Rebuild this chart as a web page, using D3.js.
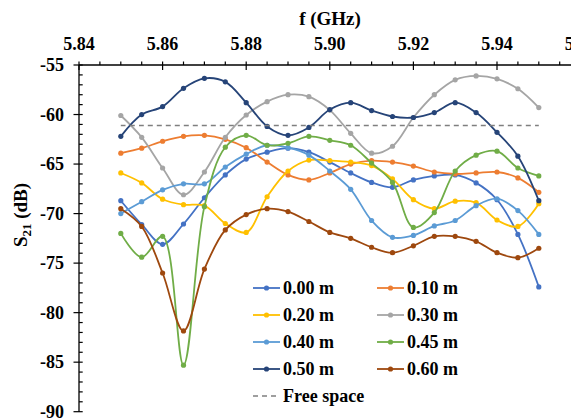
<!DOCTYPE html>
<html>
<head>
<meta charset="utf-8">
<script src="https://cdn.jsdelivr.net/npm/d3@7"></script>
<style>
  body { margin: 0; background: #fff; }
</style>
</head>
<body>
<svg id="chart" width="571" height="418" font-family="'Liberation Serif', 'DejaVu Serif', serif" font-weight="bold"></svg>
<script>
// frequencies in GHz
const freqs = [5.850, 5.855, 5.860, 5.865, 5.870, 5.875, 5.880, 5.885, 5.890, 5.895, 5.900,
               5.905, 5.910, 5.915, 5.920, 5.925, 5.930, 5.935, 5.940, 5.945, 5.950];

const s00 = [-68.7, -71.1, -73.1, -71.05, -68.4, -66.1, -64.5, -63.8, -63.4, -63.8, -64.8,
             -65.9, -66.85, -67.35, -66.6, -66.2, -66.1, -66.9, -68.6, -72.1, -77.4];
const s10 = [-63.9, -63.4, -62.7, -62.2, -62.1, -62.5, -63.35, -64.8, -66.1, -66.6, -65.9,
             -65.0, -64.65, -64.8, -65.2, -65.8, -66.0, -65.9, -65.8, -66.4, -67.85];
const s20 = [-65.9, -66.9, -68.55, -69.1, -69.2, -71.0, -71.9, -68.3, -65.7, -64.6, -64.65,
             -64.8, -65.15, -66.5, -68.6, -69.5, -68.75, -68.9, -70.65, -71.3, -69.0];
const s30 = [-60.1, -62.3, -65.4, -68.1, -65.8, -62.3, -60.05, -58.7, -58.0, -58.2, -59.55,
             -61.9, -63.9, -63.2, -60.3, -58.0, -56.5, -56.1, -56.4, -57.4, -59.3];
const s40 = [-70.0, -68.8, -67.6, -67.0, -67.0, -65.3, -64.0, -63.1, -63.35, -64.1, -65.7,
             -67.55, -70.7, -72.4, -72.2, -71.25, -70.7, -69.2, -68.5, -69.7, -72.1];
const s45 = [-72.0, -74.4, -72.3, -85.3, -69.3, -63.3, -62.1, -63.1, -62.9, -62.2, -62.6,
             -63.1, -64.9, -66.85, -71.4, -69.9, -65.7, -64.1, -63.7, -65.4, -66.2];
const s50 = [-62.2, -60.0, -59.2, -57.35, -56.35, -56.7, -58.8, -61.2, -62.1, -61.3, -59.5,
             -58.8, -59.6, -60.2, -60.3, -59.8, -58.8, -59.8, -61.8, -64.2, -68.7];
const s60 = [-69.5, -71.3, -76.0, -81.85, -75.6, -71.65, -70.1, -69.5, -69.8, -70.8, -71.9,
             -72.5, -73.4, -73.95, -73.25, -72.3, -72.3, -72.8, -73.95, -74.45, -73.5];
const freeSpace = [-61.1, -61.1, -61.1, -61.1, -61.1, -61.1, -61.1, -61.1, -61.1, -61.1, -61.1,
                   -61.1, -61.1, -61.1, -61.1, -61.1, -61.1, -61.1, -61.1, -61.1, -61.1];

const seriesNames = ["0.00 m", "0.10 m", "0.20 m", "0.30 m", "0.40 m", "0.45 m", "0.50 m", "0.60 m"];
const seriesValues = [s00, s10, s20, s30, s40, s45, s50, s60];
const seriesColors = ["#4472C4", "#ED7D31", "#FFC000", "#A5A5A5", "#5B9BD5", "#70AD47", "#264478", "#9E480E"];

const xTicks = [5.84, 5.86, 5.88, 5.90, 5.92, 5.94, 5.96];
const yTicks = [-55, -60, -65, -70, -75, -80, -85, -90];

const svg = d3.select("#chart");

let x = d3.scaleLinear().domain([5.84, 5.96]).range([79, 580.6]);
let y = d3.scaleLinear().domain([-90, -55]).range([411.7, 65]);

// top x axis: majors cross the line, minors point up
svg.append("line").attr("x1", x(5.84)).attr("x2", 571).attr("y1", y(-55)).attr("y2", y(-55))
   .attr("stroke", "#000").attr("stroke-width", 1.3);
d3.range(0, 25).forEach((i) => {
    let v = 5.84 + i * 0.005;
    let major = i % 4 === 0;
    svg.append("line")
       .attr("x1", x(v)).attr("x2", x(v))
       .attr("y1", y(-55) - 3.5).attr("y2", y(-55) + (major ? 5 : 0))
       .attr("stroke", "#000").attr("stroke-width", 1.2);
});
xTicks.forEach((v) => {
    svg.append("text")
       .attr("x", x(v)).attr("y", 50)
       .attr("text-anchor", "middle")
       .attr("font-size", 18)
       .text(v.toFixed(2));
});
svg.append("text").attr("x", 330).attr("y", 25).attr("text-anchor", "middle")
   .attr("font-size", 19).text("f (GHz)");

// left y axis: majors cross, minors point right
svg.append("line").attr("x1", 79).attr("x2", 79).attr("y1", y(-55)).attr("y2", y(-90))
   .attr("stroke", "#000").attr("stroke-width", 1.3);
d3.range(-90, -54, 1).forEach((v) => {
    let major = v % 5 === 0;
    svg.append("line")
       .attr("x1", 79 - (major ? 5.5 : 0)).attr("x2", 79 + 3.7)
       .attr("y1", y(v)).attr("y2", y(v))
       .attr("stroke", "#000").attr("stroke-width", 1.2);
});
yTicks.forEach((v) => {
    svg.append("text")
       .attr("x", 64).attr("y", y(v) + 6)
       .attr("text-anchor", "end")
       .attr("font-size", 18)
       .text(v);
});
let yTitle = svg.append("text")
   .attr("transform", "translate(27,215) rotate(-90)")
   .attr("text-anchor", "middle")
   .attr("font-size", 19);
yTitle.append("tspan").text("S");
yTitle.append("tspan").attr("font-size", 13).attr("dy", 4).text("21");
yTitle.append("tspan").attr("dy", -4).text(" (dB)");

// lines
let lineGen = d3.line()
    .x((d, i) => x(freqs[i]))
    .y((d) => y(d))
    .curve(d3.curveCatmullRom.alpha(0.5));

seriesValues.forEach((vals, idx) => {
    svg.append("path")
       .attr("d", lineGen(vals))
       .attr("fill", "none")
       .attr("stroke", seriesColors[idx])
       .attr("stroke-width", 1.8);
    svg.selectAll(null).data(vals).enter()
       .append("circle")
       .attr("cx", (d, i) => x(freqs[i]))
       .attr("cy", (d) => y(d))
       .attr("r", 2.6)
       .attr("fill", seriesColors[idx]);
});

svg.append("path")
   .attr("d", lineGen(freeSpace))
   .attr("fill", "none")
   .attr("stroke", "#7F7F7F")
   .attr("stroke-width", 1.5)
   .attr("stroke-dasharray", "5,4");

// legend, two columns
seriesNames.forEach((name, k) => {
    let col = k % 2;
    let row = Math.floor(k / 2);
    let lx = col === 0 ? 253 : 377;
    let ly = 288 + row * 27;
    svg.append("line").attr("x1", lx).attr("x2", lx + 27).attr("y1", ly).attr("y2", ly)
       .attr("stroke", seriesColors[k]).attr("stroke-width", 1.8);
    svg.append("circle").attr("cx", lx + 13.5).attr("cy", ly).attr("r", 2.6).attr("fill", seriesColors[k]);
    svg.append("text").attr("x", lx + 30).attr("y", ly + 6).attr("font-size", 18).text(name);
});
let fy = 288 + 4 * 27;
svg.append("line").attr("x1", 253).attr("x2", 280).attr("y1", fy).attr("y2", fy)
   .attr("stroke", "#7F7F7F").attr("stroke-width", 1.5).attr("stroke-dasharray", "5,4");
svg.append("text").attr("x", 283).attr("y", fy + 6).attr("font-size", 18).text("Free space");
</script>
</body>
</html>
